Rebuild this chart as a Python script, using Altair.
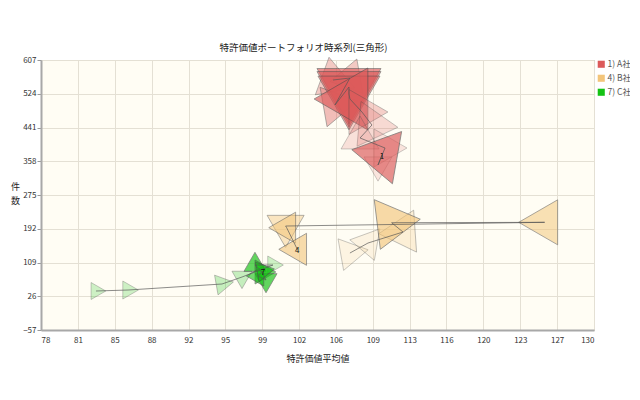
import altair as alt
import pandas as pd

# ---- data ----
company_names = ["1) A社", "4) B社", "7) C社"]
company_colors = ["#dc5a5a", "#f3c57a", "#14c214"]

a_x = [105.46, 107.05, 105.64, 106.96, 106.96, 106.96, 107.05, 108.18, 109.12, 108.00, 110.35, 109.69, 110.06]
a_y = [557.8, 562.7, 496.3, 540.6, 533.2, 523.4, 511.1, 479.1, 447.1, 415.2, 390.6, 348.8, 373.4]
a_scale = [40, 35, 40, 64, 64, 62, 62, 45, 45, 38, 38, 28, 53]
a_dir = [350, 20, 200, 180, 180, 180, 270, 90, 95, 0, 90, 180, 280]
a_str = [0.45, 0.45, 0.55, 0.9, 0.85, 0.8, 0.95, 0.4, 0.3, 0.25, 0.22, 0.2, 0.95]

b_x = [107.05, 108.75, 112.04, 110.97, 125.36, 101.00, 101.10, 102.10]
b_y = [132.3, 156.9, 184.0, 206.8, 207.8, 198.7, 194.6, 141.4]
b_scale = [32, 32, 42, 50, 45, 37, 31, 32]
b_dir = [200, 160, 26, 83, 270, 180, 270, 270]
b_str = [0.2, 0.22, 0.35, 0.9, 0.75, 0.6, 0.75, 0.85]

c_x = [83.17, 86.18, 95.02, 96.90, 99.81, 98.12, 98.78, 99.16, 98.40, 98.87]
c_y = [38.9, 41.3, 56.1, 73.3, 102.8, 102.8, 85.6, 65.9, 75.8, 88.1]
c_scale = [17, 18, 20, 20, 18, 22, 24, 22, 20, 20]
c_dir = [90, 90, 80, 60, 90, 0, 90, 180, 30, 200]
c_str = [0.3, 0.3, 0.35, 0.35, 0.3, 0.95, 0.9, 0.95, 0.85, 0.95]

x_ticks = [78, 81.47, 84.93, 88.4, 91.87, 95.33, 98.8, 102.27, 105.73, 109.2,
           112.67, 116.13, 119.6, 123.07, 126.53, 130]
y_ticks = [-57, 26, 109, 192, 275, 358, 441, 524, 607]

rows = []
for name, xs, ys, ss, ds, ts in [
    (company_names[0], a_x, a_y, a_scale, a_dir, a_str),
    (company_names[1], b_x, b_y, b_scale, b_dir, b_str),
    (company_names[2], c_x, c_y, c_scale, c_dir, c_str),
]:
    n = len(xs)
    for i in range(n):
        rows.append({"社": name, "順": i + 1, "平均値": xs[i], "件数": ys[i],
                     "規模": ss[i], "方向": ds[i], "強度": ts[i],
                     "番号": name.split(")")[0] if i == n - 1 else ""})
df = pd.DataFrame(rows)

FONT = "Noto Sans CJK JP"
tri = "M0,-1L0.866,0.5L-0.866,0.5Z"

base = alt.Chart(df).encode(
    x=alt.X("平均値:Q",
            scale=alt.Scale(domain=[78, 130], nice=False, zero=False),
            axis=alt.Axis(values=x_ticks, format=".0f", title="特許価値平均値",
                          titlePadding=10, labelPadding=6, tickSize=0)),
    y=alt.Y("件数:Q",
            scale=alt.Scale(domain=[-57, 607], nice=False, zero=False),
            axis=alt.Axis(values=y_ticks, title=["件", "数"], titleAngle=0,
                          titleAlign="center", titleBaseline="top",
                          titleX=-26, titleY=122, titleLineHeight=14,
                          tickSize=4, labelPadding=1)),
)

points = base.mark_point(shape=tri, filled=True, stroke="#4a4a4a", strokeWidth=0.8).encode(
    color=alt.Color("社:N", scale=alt.Scale(domain=company_names, range=company_colors),
                    legend=alt.Legend(title=None, symbolType="square", symbolSize=50,
                                      symbolOpacity=1, symbolStrokeWidth=0,
                                      labelFontSize=8.5, labelFont=FONT, labelColor="#555",
                                      rowPadding=5, padding=0, offset=3, labelOffset=2)),
    size=alt.Size("規模:Q", scale=alt.Scale(type="pow", exponent=2, domain=[0, 80], range=[0, 8533]),
                  legend=None),
    angle=alt.Angle("方向:Q", scale=alt.Scale(domain=[0, 360], range=[0, 360]), legend=None),
    fillOpacity=alt.FillOpacity("強度:Q", scale=alt.Scale(domain=[0, 1], range=[0, 1]), legend=None),
    strokeOpacity=alt.StrokeOpacity("強度:Q", scale=alt.Scale(domain=[0, 1], range=[0.35, 1]), legend=None),
)

lines = base.mark_line(color="#555555", strokeWidth=0.8, opacity=0.85).encode(
    detail="社:N", order="順:Q")

labels = base.mark_text(fontSize=8, font=FONT, color="#111", dy=2).encode(text="番号:N")

chart = alt.layer(points, lines, labels).properties(
    width=553, height=270,
    title=alt.TitleParams("特許価値ポートフォリオ時系列(三角形)", fontSize=9.5, font=FONT,
                          fontWeight="normal", color="#222", anchor="middle", dx=-14, offset=3),
    autosize=alt.AutoSizeParams(type="none"),
    padding={"left": 33, "top": 52, "right": 36, "bottom": 50},
).configure_view(
    fill="#fffdf4", stroke="#a8a8a8", strokeWidth=1
).configure_axis(
    labelFont=FONT, labelFontSize=8, labelColor="#333",
    titleFont=FONT, titleFontSize=9, titleFontWeight="normal", titleColor="#222",
    gridColor="#e4e0d4", domainColor="#a8a8a8", domainWidth=2, tickColor="#999"
)

chart.save("out.html", embed_options={"renderer": "svg", "actions": False})
